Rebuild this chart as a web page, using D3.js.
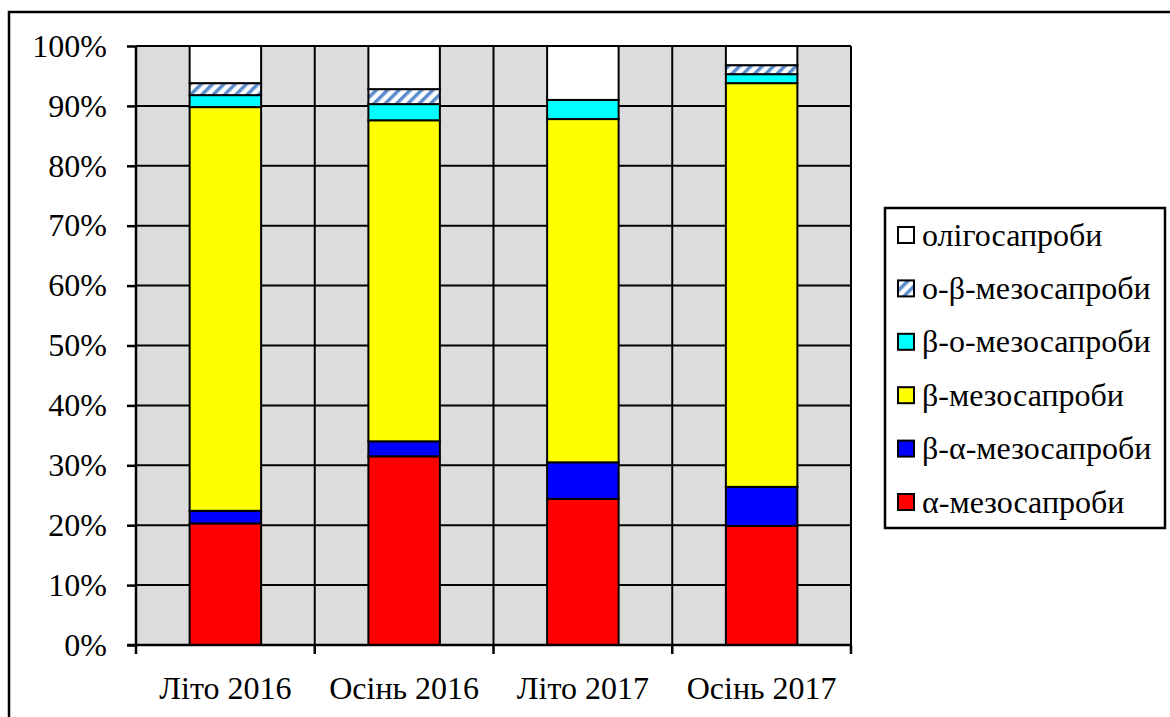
<!DOCTYPE html>
<meta charset="utf-8">
<style>
    body { margin: 0; background: #fff; }
    svg text { font-family: "Liberation Serif", "Times New Roman", serif; fill: #000; }
    .grid line { stroke: #000; stroke-width: 2; }
    .bar { stroke: #000; stroke-width: 2; }
</style>
<body>
<script src="https://cdn.jsdelivr.net/npm/d3@7"></script>
<script>
// categories and stacked shares (%)
var seasons = ["Літо 2016", "Осінь 2016", "Літо 2017", "Осінь 2017"];
var groups = ["α-мезосапроби", "β-α-мезосапроби", "β-мезосапроби", "β-о-мезосапроби", "о-β-мезосапроби", "олігосапроби"];
var alpha     = [20.3, 31.5, 24.4, 19.9];
var betaAlpha = [2.1, 2.5, 6.1, 6.5];
var beta      = [67.4, 53.6, 57.3, 67.4];
var betaO     = [2.0, 2.7, 3.2, 1.5];
var oBeta     = [2.0, 2.5, 0, 1.5];
var oligo     = [6.2, 7.2, 9.0, 3.2];
var yTicks = [0, 10, 20, 30, 40, 50, 60, 70, 80, 90, 100];

var colors = ["#ff0000", "#0000ff", "#ffff00", "#00ffff", "url(#hatch)", "#ffffff"];
var series = [alpha, betaAlpha, beta, betaO, oBeta, oligo];

var rows = seasons.map(function (s, i) {
    var r = { season: s };
    groups.forEach(function (g, k) { r[g] = series[k][i]; });
    return r;
});
var stacked = d3.stack().keys(groups)(rows);

var W = 1170, H = 717;
var svg = d3.select("body").append("svg").attr("width", W).attr("height", H);

var defs = svg.append("defs");
var pat = defs.append("pattern").attr("id", "hatch")
    .attr("patternUnits", "userSpaceOnUse").attr("width", 8).attr("height", 8)
    .attr("patternTransform", "rotate(45)");
pat.append("rect").attr("width", 8).attr("height", 8).attr("fill", "#fff");
pat.append("rect").attr("width", 3.5).attr("height", 8).attr("fill", "#5b8ccc");

// outer frame
svg.append("rect").attr("x", 9).attr("y", 12).attr("width", 1200).attr("height", 800)
    .attr("fill", "none").attr("stroke", "#000").attr("stroke-width", 2.5);

var pLeft = 136, pRight = 851, pTop = 46, pBottom = 645;

var x = d3.scaleBand().domain(seasons).range([pLeft, pRight]).paddingInner(0).paddingOuter(0);
var y = d3.scaleLinear().domain([0, 100]).range([pBottom, pTop]);

svg.append("rect").attr("x", pLeft).attr("y", pTop).attr("width", pRight - pLeft).attr("height", pBottom - pTop)
    .attr("fill", "#dcdcdc");

// horizontal grid
svg.append("g").attr("class", "grid")
    .selectAll("line").data(yTicks.slice(1)).enter().append("line")
    .attr("x1", pLeft).attr("x2", pRight).attr("y1", function (d) { return y(d); }).attr("y2", function (d) { return y(d); });

// vertical separators
var seps = seasons.slice(1).map(function (s) { return x(s); }).concat([pRight]);
svg.append("g").attr("class", "grid")
    .selectAll("line").data(seps).enter().append("line")
    .attr("x1", function (d) { return d; }).attr("x2", function (d) { return d; })
    .attr("y1", pTop).attr("y2", pBottom);

// bars
var bw = x.bandwidth() * 0.4;
stacked.forEach(function (layer, k) {
    svg.append("g").selectAll("rect").data(layer.filter(function (d) { return d[1] - d[0] > 0; }))
        .enter().append("rect").attr("class", "bar")
        .attr("x", function (d) { return x(d.data.season) + (x.bandwidth() - bw) / 2; })
        .attr("width", bw)
        .attr("y", function (d) { return y(d[1]); })
        .attr("height", function (d) { return y(d[0]) - y(d[1]); })
        .attr("fill", colors[k]);
});

// y axis
var yAxis = svg.append("g").attr("transform", "translate(" + pLeft + ",0)")
    .call(d3.axisLeft(y).tickValues(yTicks).tickSize(9).tickPadding(20).tickFormat(function (d) { return d + "%"; }));
yAxis.selectAll("line, path").attr("stroke", "#000").attr("stroke-width", 2.5);
yAxis.select(".domain").attr("d", "M0," + pTop + "V" + pBottom);
yAxis.selectAll("text").style("font-size", "32px").style("font-family", "'Liberation Serif', serif");

// x axis
var xAxis = svg.append("g").attr("transform", "translate(0," + pBottom + ")")
    .call(d3.axisBottom(x).tickSize(0).tickPadding(31));
xAxis.select(".domain").attr("d", "M127,0H" + pRight).attr("stroke", "#000").attr("stroke-width", 2.5);
xAxis.selectAll("text").style("font-size", "32px").style("font-family", "'Liberation Serif', serif");
xAxis.append("g").selectAll("line").data(seasons.map(function (s) { return x(s); }).concat([pRight])).enter().append("line")
    .attr("x1", function (d) { return d; }).attr("x2", function (d) { return d; })
    .attr("y1", 0).attr("y2", 9).attr("stroke", "#000").attr("stroke-width", 2.5);

// legend
var lg = svg.append("g");
lg.append("rect").attr("x", 885).attr("y", 208).attr("width", 280).attr("height", 320)
    .attr("fill", "#fff").attr("stroke", "#000").attr("stroke-width", 2.5);
var order = groups.slice().reverse();
var item = lg.selectAll("g.item").data(order).enter().append("g")
    .attr("transform", function (d, i) { return "translate(898," + (235 + i * 53.4) + ")"; });
item.append("rect").attr("x", 0).attr("y", -8).attr("width", 16).attr("height", 16)
    .attr("fill", function (d) { return colors[groups.indexOf(d)]; })
    .attr("stroke", "#000").attr("stroke-width", 2);
item.append("text").attr("x", 24).attr("dy", "0.33em")
    .style("font-size", "32px").style("font-family", "'Liberation Serif', serif")
    .text(function (d) { return d; });
</script>
</body>
